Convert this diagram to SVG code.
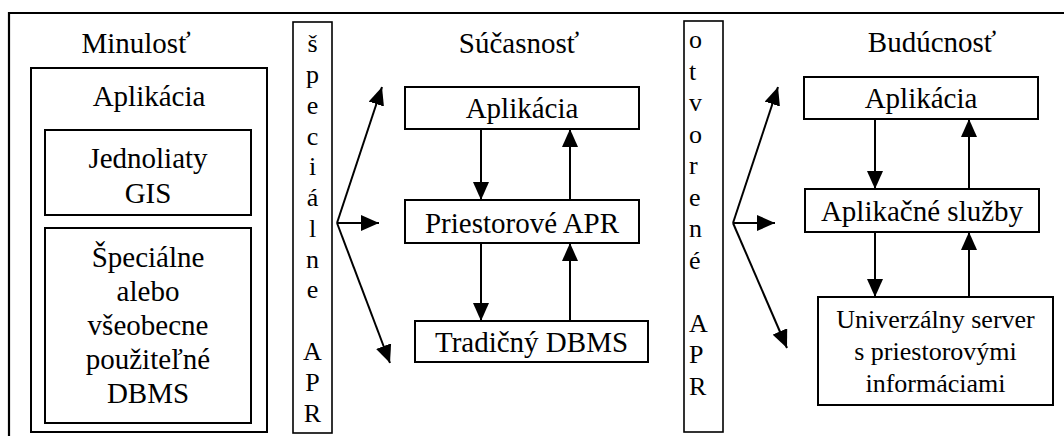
<svg xmlns="http://www.w3.org/2000/svg" width="1064" height="436" viewBox="0 0 1064 436">
  <style>
    text { font-family: "Times New Roman", Times, "Liberation Serif", "DejaVu Serif", serif; fill: #000; }
    .t { font-size: 29px; text-anchor: middle; }
    .s { font-size: 26px; text-anchor: middle; }
    .v { font-size: 26px; }
    .c { text-anchor: middle; }
    .box { fill: #fff; stroke: #000; stroke-width: 2; }
    .bar { fill: #fff; stroke: #000; stroke-width: 1.6; }
    .frame { fill: none; stroke: #000; stroke-width: 2.2; }
    .arrow { fill: none; stroke: #000; stroke-width: 2; marker-end: url(#head); }
  </style>
  <defs>
    <marker id="head" markerUnits="userSpaceOnUse" markerWidth="18" markerHeight="16" refX="18" refY="8" orient="auto">
      <path d="M0,0 L18,8 L0,16 Z" fill="#000"/>
    </marker>
  </defs>
  <rect width="1064" height="436" fill="#fff"/>

  <!-- outer frame (top and left edges) -->
  <path class="frame" d="M9,440 L9,13 L1066,13"/>

  <!-- past -->
  <g id="past">
    <text class="t" x="136" y="53">Minulosť</text>
    <rect class="box" x="31" y="68" width="236" height="364"/>
    <text class="t" x="149" y="106">Aplikácia</text>
    <g id="past-gis">
      <rect class="box" x="45" y="130" width="206" height="85"/>
      <text class="t" x="148" y="168">Jednoliaty</text>
      <text class="t" x="148" y="203">GIS</text>
    </g>
    <g id="past-dbms">
      <rect class="box" x="45" y="228" width="206" height="195"/>
      <text class="t" x="148" y="267">Špeciálne</text>
      <text class="t" x="148" y="301">alebo</text>
      <text class="t" x="148" y="335">všeobecne</text>
      <text class="t" x="148" y="369">použiteľné</text>
      <text class="t" x="148" y="403">DBMS</text>
    </g>
  </g>

  <!-- vertical label: špeciálne APR -->
  <g id="special-apr">
    <rect class="bar" x="293" y="22" width="39" height="411"/>
    <text class="v c" x="312.5" y="52">š</text>
    <text class="v c" x="312.5" y="83">p</text>
    <text class="v c" x="312.5" y="114">e</text>
    <text class="v c" x="312.5" y="145">c</text>
    <text class="v c" x="312.5" y="175">i</text>
    <text class="v c" x="312.5" y="206">á</text>
    <text class="v c" x="312.5" y="237">l</text>
    <text class="v c" x="312.5" y="268">n</text>
    <text class="v c" x="312.5" y="298">e</text>
    <text class="v c" x="312.5" y="360">A</text>
    <text class="v c" x="312.5" y="391">P</text>
    <text class="v c" x="312.5" y="422">R</text>
  </g>

  <!-- present -->
  <g id="present">
    <text class="t" x="519" y="53">Súčasnosť</text>
    <g id="present-app">
      <rect class="box" x="405" y="87" width="234" height="42"/>
      <text class="t" x="522" y="118">Aplikácia</text>
    </g>
    <g id="present-spatial">
      <rect class="box" x="405" y="200" width="234" height="43"/>
      <text class="t" x="522" y="233">Priestorové APR</text>
    </g>
    <g id="present-dbms">
      <rect class="box" x="415" y="321" width="233" height="41"/>
      <text class="t" x="531.5" y="352">Tradičný DBMS</text>
    </g>
  </g>

  <!-- vertical label: otvorené APR -->
  <g id="open-apr">
    <rect class="bar" x="684" y="21" width="39" height="411"/>
    <text class="v" x="689" y="48">o</text>
    <text class="v" x="689" y="79.5">t</text>
    <text class="v" x="689" y="111">v</text>
    <text class="v" x="689" y="142.5">o</text>
    <text class="v" x="689" y="174">r</text>
    <text class="v" x="689" y="205.5">e</text>
    <text class="v" x="689" y="237">n</text>
    <text class="v" x="689" y="268.5">é</text>
    <text class="v" x="689" y="331.5">A</text>
    <text class="v" x="689" y="363">P</text>
    <text class="v" x="689" y="394.5">R</text>
  </g>

  <!-- future -->
  <g id="future">
    <text class="t" x="932" y="52">Budúcnosť</text>
    <g id="future-app">
      <rect class="box" x="804" y="77" width="234" height="42"/>
      <text class="t" x="921" y="108">Aplikácia</text>
    </g>
    <g id="future-services">
      <rect class="box" x="805" y="189" width="234" height="43"/>
      <text class="t" x="922" y="221">Aplikačné služby</text>
    </g>
    <g id="future-server">
      <rect class="box" x="818" y="297" width="235" height="108"/>
      <text class="s" x="935.5" y="328">Univerzálny server</text>
      <text class="s" x="935.5" y="360">s priestorovými</text>
      <text class="s" x="935.5" y="392">informáciami</text>
    </g>
  </g>

  <!-- connectors -->
  <g id="connectors">
    <line class="arrow" x1="337" y1="223" x2="382" y2="87"/>
    <line class="arrow" x1="337" y1="223" x2="379" y2="223"/>
    <line class="arrow" x1="337" y1="223" x2="390" y2="363"/>
    <line class="arrow" x1="481" y1="129" x2="481" y2="200"/>
    <line class="arrow" x1="570" y1="200" x2="570" y2="129"/>
    <line class="arrow" x1="481" y1="243" x2="481" y2="321"/>
    <line class="arrow" x1="570" y1="321" x2="570" y2="243"/>

    <line class="arrow" x1="733" y1="223" x2="778" y2="87"/>
    <line class="arrow" x1="733" y1="223" x2="775" y2="223"/>
    <line class="arrow" x1="733" y1="223" x2="787" y2="348"/>
    <line class="arrow" x1="875" y1="119" x2="875" y2="189"/>
    <line class="arrow" x1="969" y1="189" x2="969" y2="119"/>
    <line class="arrow" x1="875" y1="232" x2="875" y2="297"/>
    <line class="arrow" x1="969" y1="297" x2="969" y2="232"/>
  </g>
</svg>
